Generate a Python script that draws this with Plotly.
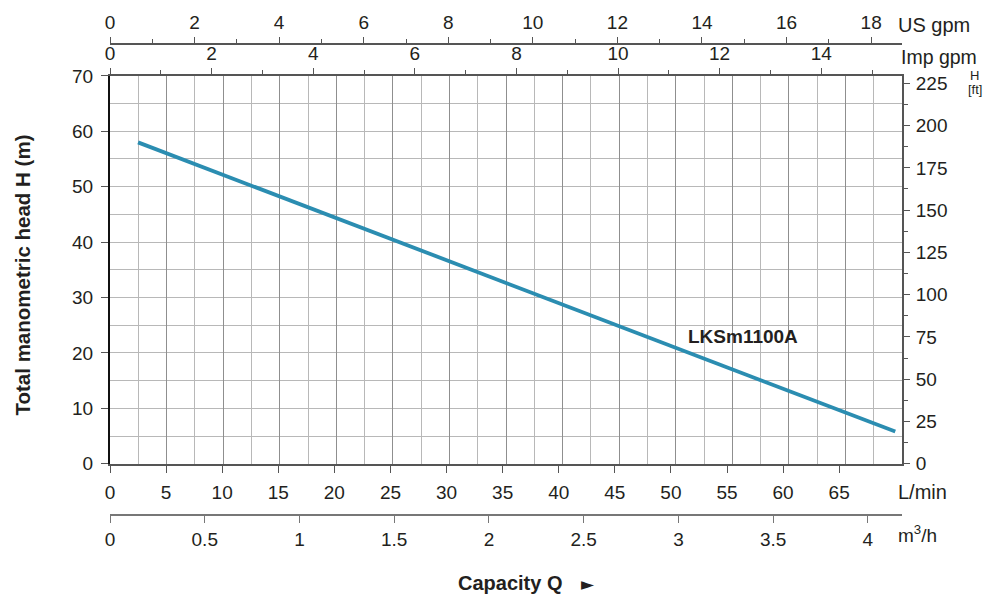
import plotly.graph_objects as go

# ---- data ----
q_lmin = [2.5, 10, 20, 30, 40, 50, 60, 70]
head_m = [58.0, 52.2, 44.5, 36.7, 29.0, 21.3, 13.5, 5.8]
curve_name = "LKSm1100A"

lmin_ticks = [0, 5, 10, 15, 20, 25, 30, 35, 40, 45, 50, 55, 60, 65]
m3h_ticks = [0, 0.5, 1, 1.5, 2, 2.5, 3, 3.5, 4]
m3h_labels = ["0", "0.5", "1", "1.5", "2", "2.5", "3", "3.5", "4"]
usgpm_ticks = [0, 2, 4, 6, 8, 10, 12, 14, 16, 18]
impgpm_ticks = [0, 2, 4, 6, 8, 10, 12, 14]
head_m_ticks = [0, 10, 20, 30, 40, 50, 60, 70]
head_ft_ticks = [0, 25, 50, 75, 100, 125, 150, 175, 200, 225]

FONT = "Liberation Sans, Arial, sans-serif"
TXT = "#231f20"
LINE = "#555555"
CURVE = "#2b8db1"

fig = go.Figure()

fig.add_trace(go.Scatter(x=q_lmin, y=head_m, mode="lines",
                         line=dict(color=CURVE, width=3.8),
                         xaxis="x", yaxis="y", showlegend=False, hoverinfo="skip"))
# placeholder traces so every axis is drawn
for xa, ya in [("x2", "y"), ("x3", "y"), ("x4", "y"), ("x5", "y"), ("x", "y2")]:
    fig.add_trace(go.Scatter(x=[None], y=[None], xaxis=xa, yaxis=ya, mode="lines",
                             showlegend=False, hoverinfo="skip"))

tickfont = dict(family=FONT, size=19, color=TXT)
Y0, Y1 = 0.1089, 0.9323

fig.update_layout(
    width=984, height=596,
    margin=dict(l=110, r=82, t=42, b=81),
    paper_bgcolor="white", plot_bgcolor="white",
    font=dict(family=FONT, color=TXT),
    xaxis=dict(range=[0, 70.6], tickvals=lmin_ticks, ticks="outside", ticklen=7,
               tickcolor=LINE, showline=True, linecolor=LINE, linewidth=2,
               showgrid=False, zeroline=False, tickfont=tickfont, ticklabelstandoff=3),
    xaxis2=dict(range=[0, 70], overlaying="x", anchor="y", dtick=5,
                showgrid=True, gridcolor="#8f8f8f", gridwidth=1,
                minor=dict(dtick=2.5, showgrid=True, gridcolor="#b8b8b8", gridwidth=1),
                showticklabels=False, ticks="", showline=False, zeroline=False),
    xaxis3=dict(range=[0, 18.73], overlaying="x", anchor="free", position=1, side="top",
                tickvals=usgpm_ticks, ticks="outside", ticklen=6, tickcolor=LINE,
                minor=dict(dtick=1, ticks="outside", ticklen=4, tickcolor=LINE),
                showline=True, linecolor=LINE, linewidth=2, showgrid=False,
                zeroline=False, tickfont=tickfont),
    xaxis4=dict(range=[0, 15.59], overlaying="x", anchor="y", side="top",
                tickvals=impgpm_ticks, ticks="outside", ticklen=6, tickcolor=LINE,
                minor=dict(dtick=1, ticks="outside", ticklen=4, tickcolor=LINE),
                showline=True, linecolor=LINE, linewidth=2, showgrid=False,
                zeroline=False, tickfont=tickfont),
    xaxis5=dict(range=[0, 4.18], overlaying="x", anchor="free", position=0, side="bottom",
                tickvals=m3h_ticks, ticktext=m3h_labels, ticks="outside", ticklen=7,
                tickcolor="#777777", showline=True, linecolor="#777777", linewidth=2,
                showgrid=False, zeroline=False, tickfont=tickfont),
    yaxis=dict(domain=[Y0, Y1], range=[0, 70], tickvals=head_m_ticks, ticks="outside",
               ticklen=7, tickcolor=LINE, showline=True, linecolor="#111111", linewidth=2,
               showgrid=True, gridcolor="#b8b8b8", gridwidth=1,
               minor=dict(dtick=5, showgrid=True, gridcolor="#b8b8b8", gridwidth=1),
               zeroline=False, tickfont=tickfont, ticklabelstandoff=4),
    yaxis2=dict(range=[0, 229.4], overlaying="y", anchor="x", side="right",
                tickvals=head_ft_ticks, ticks="outside", ticklen=6, tickcolor=LINE,
                minor=dict(dtick=12.5, ticks="outside", ticklen=4, tickcolor=LINE),
                showline=True, linecolor=LINE, linewidth=2, showgrid=False,
                zeroline=False, tickfont=tickfont, ticklabelstandoff=2),
)

ann = [
    dict(text="US gpm", x=0.9924, y=1.040, xanchor="left", size=20, fam=FONT),
    dict(text="Imp gpm", x=0.9962, y=0.9725, xanchor="left", size=19.5, fam=FONT),
    dict(text="L/min", x=0.9924, y=0.0497, xanchor="left", size=20, fam=FONT),
    dict(text="m<sup>3</sup>/h", x=0.9924, y=-0.040, xanchor="left", size=19, fam=FONT),
    dict(text="H", x=1.092, y=0.9330, xanchor="center", size=13, fam=FONT),
    dict(text="[ft]", x=1.092, y=0.9030, xanchor="center", size=13, fam=FONT),
    dict(text="<b>Capacity Q</b>", x=0.505, y=-0.144, xanchor="center", size=20, fam=FONT),
    dict(text="►", x=0.6035, y=-0.146, xanchor="center", size=17, fam="DejaVu Sans"),
]
for a in ann:
    fig.add_annotation(xref="paper", yref="paper", x=a["x"], y=a["y"], text=a["text"],
                       xanchor=a["xanchor"], yanchor="middle", showarrow=False,
                       font=dict(family=a["fam"], size=a["size"], color=TXT))

fig.add_annotation(xref="paper", yref="paper", x=-0.1105, y=0.5095, textangle=-90,
                   text="<b>Total manometric head H (m)</b>", showarrow=False,
                   xanchor="center", yanchor="middle",
                   font=dict(family=FONT, size=20.5, color=TXT))

fig.add_annotation(xref="x", yref="y", x=51.36, y=22.98, text="<b>" + curve_name + "</b>",
                   showarrow=False, xanchor="left", yanchor="middle",
                   font=dict(family=FONT, size=19, color=TXT))

fig.write_html("out.html", config={"displayModeBar": False},
               post_script="document.body.style.margin='0';")
